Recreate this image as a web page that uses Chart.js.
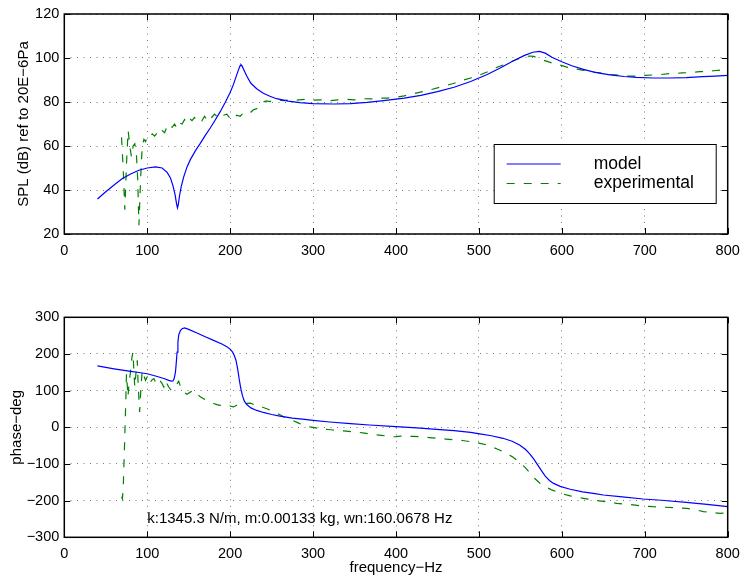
<html lang="en">
<head>
    <meta charset="UTF-8">
    <title>SPL and phase: model vs experimental</title>
    <script src="https://cdn.jsdelivr.net/npm/chart.js"></script>
    <style>
        body { margin: 0; background: #fff; }
        #wrap { position: relative; width: 740px; height: 577px; }
        canvas { position: absolute; left: 0; }
    </style>
</head>
<body>
<div id="wrap">
    <canvas id="splChart" width="740" height="260" style="top:0"></canvas>
    <canvas id="phaseChart" width="740" height="317" style="top:260px"></canvas>
</div>

<script>
    // axis ticks
    const freqTicks = [0, 100, 200, 300, 400, 500, 600, 700, 800];
    const splTicks = [20, 40, 60, 80, 100, 120];
    const phaseTicks = [-300, -200, -100, 0, 100, 200, 300];

    // SPL (dB) - model
    const freqModelSpl = [40, 50, 60, 70, 80, 90, 100, 110, 118, 124, 128, 131, 133.5, 135.5, 136.5, 137.5, 139, 141, 144, 148,
        152, 158, 164, 170, 176, 182, 188, 194, 200, 204, 207, 210, 212, 213, 214.5, 217, 220, 225, 232, 240,
        248, 256, 270, 284, 300, 325, 345, 365, 385, 410, 430, 450, 470, 490, 510, 525, 540, 555, 565, 573,
        580, 588, 600, 612, 626, 640, 658, 675, 690, 710, 730, 750, 770, 785, 800];
    const splModel = [35.9, 39.2, 42.3, 45.2, 47.3, 49.0, 50.0, 50.5, 50.0, 48.0, 45.5, 42.0, 38.0, 33.5, 31.9, 33.5, 37.5, 41.5, 46.0, 50.5,
        53.8, 57.8, 61.2, 64.8, 68.2, 71.8, 75.6, 79.8, 84.3, 88.0, 91.3, 94.6, 96.5, 97.0, 96.3, 94.2, 91.8, 88.5, 86.0, 84.0,
        82.6, 81.5, 80.4, 79.7, 79.3, 79.1, 79.3, 79.8, 80.6, 81.8, 83.0, 84.7, 86.7, 89.3, 92.5, 95.3, 98.4, 101.2, 102.6, 103.0,
        102.2, 100.3, 98.3, 96.5, 94.8, 93.5, 92.3, 91.6, 91.2, 90.9, 90.9, 91.1, 91.5, 91.8, 92.1];

    // SPL (dB) - experimental
    const freqExpSpl = [69, 71, 73, 75, 77, 79, 81, 83, 85, 87, 88.5, 90, 92, 94, 96, 98, 100, 103, 106, 109,
        112, 115, 118, 121, 124, 127, 130, 133, 136, 139, 142, 145, 148, 151, 154, 157, 160, 163, 166, 169,
        172, 175, 178, 181, 184, 188, 192, 196, 200, 204, 208, 212, 216, 220, 224, 228, 232, 236, 240, 244,
        248, 252, 258, 264, 272, 280, 290, 300, 310, 320, 330, 340, 350, 360, 370, 380, 390, 400, 410, 420,
        432, 444, 456, 469, 480, 490, 501, 512, 520, 529, 538, 545, 550, 556, 561, 566, 571, 577, 585, 592,
        598, 605, 612, 620, 626, 635, 643, 650, 660, 670, 680, 690, 700, 710, 720, 730, 738, 745, 755, 766,
        775, 783, 791, 800];
    const splExp = [64, 50, 31, 52, 67, 60, 55, 60, 61, 56, 45, 24, 45, 60, 63, 62, 64, 63.5, 65.5, 64.5,
        66, 65, 67, 66, 69, 70, 68.5, 70, 68, 70.5, 70, 72, 70.5, 72.5, 71.5, 73, 71.5, 72.5, 71.5, 73.5,
        72, 74, 73, 74.5, 73.5, 75, 74, 74.5, 72.5, 72, 74, 73.5, 75, 75.5, 75, 76.5, 77, 78.5, 80, 80.5,
        80.2, 81, 81, 80.6, 81, 80.8, 81.2, 80.8, 81, 80.6, 81, 81.2, 81, 81.5, 81.4, 81.8, 81.8, 82.2, 82.8, 83.7,
        84.7, 85.8, 87, 88.4, 89.8, 90.9, 92.3, 94, 95.5, 96.8, 98.2, 99.3, 99.9, 100.6, 100.9, 100.7, 100.1, 99.1, 98.1, 97.3,
        96.8, 96, 95.3, 94.8, 94.4, 93.8, 93.4, 93, 92.5, 92.2, 91.8, 91.8, 92.1, 92.3, 92.5, 92.9, 93, 93.2, 93.4, 93.8,
        93.9, 94.2, 94.5, 95.6];

    // phase (deg) - model
    const freqModelPhase = [40, 50, 60, 70, 80, 90, 100, 110, 120, 126, 129, 131, 132.5, 134, 135, 136, 137, 138, 140, 142,
        145, 150, 160, 170, 180, 190, 196, 200, 203, 205, 207, 209, 211, 213, 215, 217, 220, 225, 232, 240,
        250, 260, 275, 290, 300, 320, 345, 368, 400, 425, 449, 470, 490, 501, 515, 529, 540, 549, 556, 561,
        566, 571, 576, 580, 585, 590, 598, 610, 625, 640, 650, 670, 698, 720, 750, 775, 800];
    const phaseModel = [167.5, 163.5, 159.5, 156, 152.5, 149.5, 146, 140, 133, 128, 126, 126.5, 133, 150, 175, 205, 232, 252, 264, 269,
        271, 267, 257, 247, 237, 227, 220, 213, 205, 196, 183, 160, 130, 104, 85, 72, 62, 53, 46, 40.5,
        35, 30.5, 25, 21.5, 19, 14.5, 10, 6.3, 2, -1.5, -5.5, -9, -14, -18, -23, -30, -38, -48, -60, -72,
        -86, -103, -120, -133, -145, -153, -161, -169, -176, -181, -184.6, -189, -195.5, -199, -204.5, -210, -216.5];

    // phase (deg) - experimental
    const freqExpPhase = [69, 70, 71, 72.5, 74, 75, 76.8, 78, 80, 81.5, 82.8, 84, 85, 86.5, 88, 89, 90.8, 92.5, 94, 96,
        98, 100.8, 102, 104, 106, 108, 111, 114, 116, 118, 120, 122, 124, 126, 128, 130, 133, 135, 138, 140,
        142, 144, 148, 152, 156, 160, 164, 168, 172, 176, 180, 184, 188, 192, 196, 200, 204, 208, 212, 216,
        220, 224, 228, 232, 236, 240, 245, 250, 255, 260, 265, 270, 276, 282, 288, 294, 300, 306, 312, 318,
        324, 332, 340, 348, 356, 362, 368, 375, 382, 390, 395, 400, 406, 412, 421, 430, 440, 449, 460, 470,
        480, 489, 500, 509, 515, 522, 529, 535, 540, 545.5, 550, 556, 561.6, 567, 573.6, 580, 587, 593.7, 600, 610,
        626, 640, 650, 666, 680, 695, 710, 725, 740, 750.5, 760, 770.6, 780, 790.6, 800];
    const phaseExp = [-189, -195, -170, -60, 60, 146, 83, 120, 155, 190, 205, 150, 110, 150, 183, 120, 42, 110, 155, 140,
        128, 142, 135, 124, 130, 133, 118, 115, 125, 119, 110, 128, 118, 110, 103, 101, 108, 115, 126, 112,
        103, 96, 90, 96, 101, 92, 83, 78, 72, 69, 65, 62, 60, 58, 60, 58, 55.5, 60, 62, 64,
        65, 66, 63, 60, 57, 54, 50, 45, 40, 34, 28, 23, 18, 12, 6, 2, 0, -3, -5, -6,
        -7.3, -9, -10.5, -12, -14, -16, -18, -20, -22, -24, -26, -25.6, -24, -24.5, -24.7, -26, -28, -30, -32, -34,
        -36, -39, -43, -48, -53, -59, -66.5, -74, -80, -89, -98, -110, -125, -139, -152.7, -162, -170, -175.6, -181, -187,
        -193.6, -199, -202, -207.3, -210, -214, -216.5, -218, -219.5, -221, -224, -230, -232, -234.5, -234];

    const seriesNames = ['model', 'experimental'];
    const noteText = 'k:1345.3 N/m, m:0.00133 kg, wn:160.0678 Hz';
    const noteAt = {x: 100, y: -250};

    const FONT = "'Liberation Sans', Arial, Helvetica, sans-serif";
    Chart.defaults.font.family = FONT;
    Chart.defaults.color = '#000';

    const minus = v => String(v).replace('-', '\u2212');
    const pts = (xs, ys) => xs.map((x, i) => ({x: x, y: ys[i]}));

    // box round the plot and small inward ticks on all four sides
    const framePlugin = {
        id: 'frame',
        afterDraw(chart) {
            const {ctx, chartArea: a, scales} = chart;
            const len = 6;
            ctx.save();
            ctx.strokeStyle = '#000';
            ctx.lineWidth = 1;
            ctx.beginPath();
            scales.x.ticks.forEach(t => {
                const p = Math.round(scales.x.getPixelForValue(t.value)) + 0.5;
                ctx.moveTo(p, a.bottom); ctx.lineTo(p, a.bottom - len);
                ctx.moveTo(p, a.top); ctx.lineTo(p, a.top + len);
            });
            scales.y.ticks.forEach(t => {
                const p = Math.round(scales.y.getPixelForValue(t.value)) + 0.5;
                ctx.moveTo(a.left, p); ctx.lineTo(a.left + len, p);
                ctx.moveTo(a.right, p); ctx.lineTo(a.right - len, p);
            });
            ctx.stroke();
            ctx.lineWidth = 1.5;
            ctx.strokeRect(a.left, a.top, a.right - a.left, a.bottom - a.top);
            ctx.restore();
        }
    };

    // legend box inside the upper plot
    const boxLegend = {
        id: 'boxLegend',
        afterDraw(chart, args, opts) {
            if (!opts.show) return;
            const {ctx, chartArea: a} = chart;
            const x0 = a.right - 234, y0 = a.top + 130, w = 222, h = 59;
            ctx.save();
            ctx.fillStyle = '#fff';
            ctx.fillRect(x0, y0, w, h);
            ctx.strokeStyle = '#000';
            ctx.lineWidth = 1;
            ctx.strokeRect(x0 + 0.5, y0 + 0.5, w, h);
            chart.data.datasets.forEach((ds, i) => {
                const y = y0 + 20 + i * 19.5;
                ctx.strokeStyle = ds.borderColor;
                ctx.lineWidth = ds.borderWidth;
                ctx.setLineDash(ds.borderDash || []);
                ctx.beginPath();
                ctx.moveTo(x0 + 13, y);
                ctx.lineTo(x0 + 67, y);
                ctx.stroke();
                ctx.setLineDash([]);
                ctx.fillStyle = '#000';
                ctx.font = '17.5px ' + FONT;
                ctx.textBaseline = 'middle';
                ctx.fillText(ds.label, x0 + 100, y);
            });
            ctx.restore();
        }
    };

    // parameter note in the lower plot
    const notePlugin = {
        id: 'note',
        afterDatasetsDraw(chart, args, opts) {
            if (!opts.text) return;
            const {ctx, scales} = chart;
            ctx.save();
            ctx.fillStyle = '#000';
            ctx.font = '15px ' + FONT;
            ctx.textBaseline = 'middle';
            ctx.fillText(opts.text, scales.x.getPixelForValue(opts.at.x), scales.y.getPixelForValue(opts.at.y));
            ctx.restore();
        }
    };

    function makeChart(id, cfg) {
        const ctx = document.getElementById(id).getContext('2d');
        return new Chart(ctx, {
            type: 'line',
            data: {
                datasets: [{
                    label: seriesNames[0],
                    data: pts(cfg.fm, cfg.ym),
                    borderColor: '#0000ff',
                    borderWidth: 1.2,
                    pointRadius: 0,
                    tension: 0,
                    fill: false,
                }, {
                    label: seriesNames[1],
                    data: pts(cfg.fe, cfg.ye),
                    borderColor: '#008000',
                    borderWidth: 1.2,
                    borderDash: [8, 9],
                    pointRadius: 0,
                    tension: 0,
                    fill: false,
                }]
            },
            options: {
                responsive: false,
                animation: false,
                layout: { padding: { top: cfg.padTop, right: 12.3, left: 0, bottom: 0 } },
                plugins: {
                    legend: { display: false },
                    tooltip: { enabled: false },
                    boxLegend: { show: cfg.legend },
                    note: cfg.note || {},
                },
                scales: {
                    x: {
                        type: 'linear',
                        min: 0, max: 800,
                        afterBuildTicks: s => { s.ticks = freqTicks.map(v => ({value: v})); },
                        afterFit: s => { s.height = cfg.xHeight; s.paddingLeft = 0; s.paddingRight = 0; },
                        ticks: { font: { size: 14.5 }, padding: 8, maxRotation: 0, callback: v => minus(v) },
                        grid: { color: '#777', drawTicks: false },
                        border: { display: false, dash: [1, 5.5] },
                        title: {
                            display: !!cfg.xTitle,
                            text: cfg.xTitle || '',
                            font: { size: 15 },
                            padding: { top: 0, bottom: 0 },
                        },
                    },
                    y: {
                        min: cfg.ticks[0], max: cfg.ticks[cfg.ticks.length - 1],
                        afterBuildTicks: s => { s.ticks = cfg.ticks.map(v => ({value: v})); },
                        afterFit: s => { s.width = 64.3; s.paddingTop = 0; s.paddingBottom = 0; },
                        ticks: { font: { size: 14.5 }, padding: 5, callback: v => minus(v) },
                        grid: { color: '#777', drawTicks: false },
                        border: { display: false, dash: [1, 5.5] },
                        title: {
                            display: true,
                            text: cfg.yTitle,
                            font: { size: 15 },
                            padding: { top: cfg.yTitlePad, bottom: 0 },
                        },
                    },
                },
            },
            plugins: [framePlugin, boxLegend, notePlugin],
        });
    }

    makeChart('splChart', {
        fm: freqModelSpl, ym: splModel, fe: freqExpSpl, ye: splExp,
        ticks: splTicks, yTitle: 'SPL (dB) ref to 20E\u22126Pa', yTitlePad: 14.5,
        padTop: 14, xHeight: 26, legend: true,
    });

    makeChart('phaseChart', {
        fm: freqModelPhase, ym: phaseModel, fe: freqExpPhase, ye: phaseExp,
        ticks: phaseTicks, yTitle: 'phase\u2212deg', yTitlePad: 7.5,
        xTitle: 'frequency\u2212Hz',
        padTop: 57.3, xHeight: 39.7, legend: false,
        note: { text: noteText, at: noteAt },
    });
</script>
</body>
</html>
